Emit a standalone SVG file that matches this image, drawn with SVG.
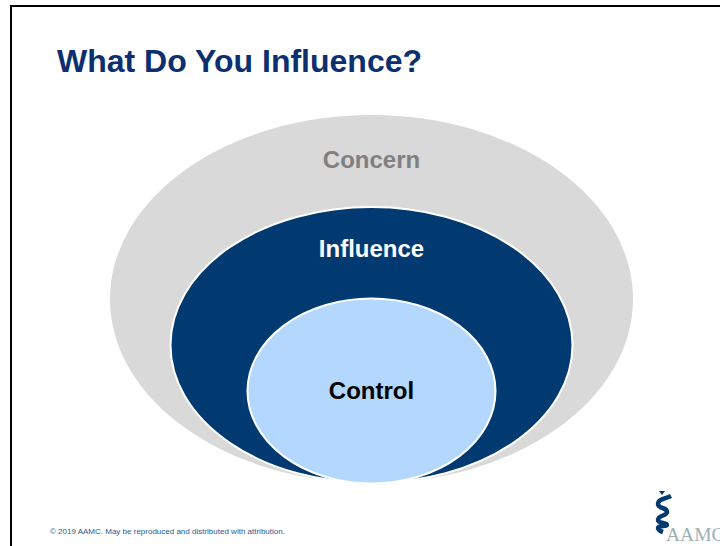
<svg xmlns="http://www.w3.org/2000/svg" width="720" height="546" viewBox="0 0 720 546">
<style>
text{font-family:"Liberation Sans",Arial,sans-serif}
.l{font-size:24px;font-weight:bold;text-anchor:middle}
.e{stroke:#fff;stroke-width:2}
text.s{font-family:"Liberation Serif","Times New Roman",serif}
</style>
<rect width="720" height="546" fill="#fff"/>
<path d="M11 546V6H720" fill="none" stroke="#000" stroke-width="2"/>
<text x="57" y="72" font-size="32" font-weight="bold" fill="#0b2f6f">What Do You Influence?</text>
<g id="concern"><ellipse cx="371.500" cy="299" rx="261.500" ry="184" fill="#d9d9d9"/><text class="l" x="371.500" y="168" fill="#808080">Concern</text></g>
<g id="influence"><ellipse class="e" cx="371.500" cy="345" rx="201" ry="138" fill="#003a70"/><text class="l" x="371.500" y="257" fill="#fff">Influence</text></g>
<g id="control"><ellipse class="e" cx="371.500" cy="391" rx="124" ry="92.500" fill="#b3d7fd"/><text class="l" x="371.500" y="399" fill="#000">Control</text></g>
<text x="50" y="534" font-size="8" fill="#2b5a8c">© 2019 AAMC. May be reproduced and distributed with attribution.</text>
<g id="logo">
<path d="M659 491H665L662 495Z" fill="#003a70"/>
<path d="M671 496C665 499 658 499 658 504C658 509 667 507 667 512C667 516 658 515 658 520C658 524 667 522 667 525C667 527 658 525 658 528C658 530 660 531 663 532" fill="none" stroke="#003a70" stroke-width="4.500"/>
<text class="s" x="666" y="541" font-size="19.500" fill="#9fb0b0">AAMC</text>
</g>
</svg>
